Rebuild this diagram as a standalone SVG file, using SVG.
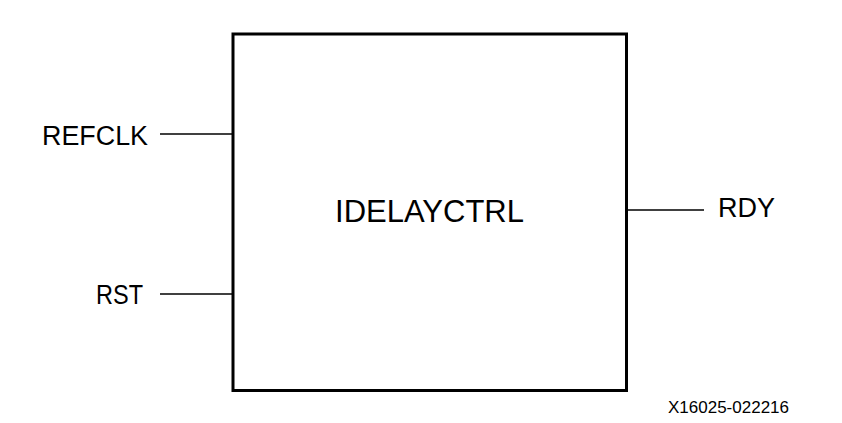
<svg xmlns="http://www.w3.org/2000/svg" width="842" height="423" viewBox="0 0 842 423">
<style>
text{font-family:"Liberation Sans",Arial,sans-serif;fill:#000}
.pin{font-size:27px}
.w{stroke:#000;stroke-width:1.5;fill:none}
</style>
<rect width="842" height="423" fill="#fff"/>
<g id="idelayctrl">
<rect x="233" y="34" width="393.5" height="356.5" fill="#fff" stroke="#000" stroke-width="3"/>
<text x="429.5" y="222" font-size="31" text-anchor="middle">IDELAYCTRL</text>
</g>
<g id="connectors">
<line class="w" x1="160" y1="134" x2="233" y2="134"/>
<line class="w" x1="160" y1="294" x2="233" y2="294"/>
<line class="w" x1="626.5" y1="210" x2="704" y2="210"/>
</g>
<g id="refclk"><text class="pin" x="42" y="145" textLength="106" lengthAdjust="spacingAndGlyphs">REFCLK</text></g>
<g id="rst"><text class="pin" x="96" y="304" textLength="47" lengthAdjust="spacingAndGlyphs">RST</text></g>
<g id="rdy"><text class="pin" x="718" y="217">RDY</text></g>
<text x="668" y="413" font-size="17">X16025-022216</text>
</svg>
